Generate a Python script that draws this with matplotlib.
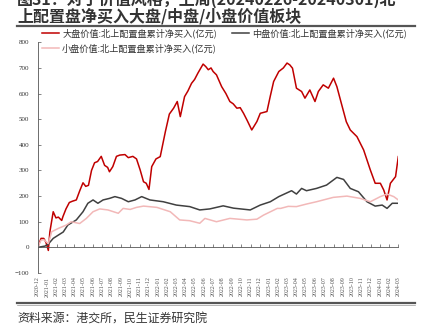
#!/usr/bin/env python3
import matplotlib
matplotlib.use('Agg')
import matplotlib.pyplot as plt
import matplotlib.dates as mdates
from matplotlib.lines import Line2D
import pandas as pd

plt.rcParams['font.family'] = ['Noto Sans CJK SC', 'DejaVu Sans']

# 大盘价值
large_dates = ['2020-12-01', '2020-12-12', '2020-12-21', '2020-12-28', '2021-01-05', '2021-01-10',
               '2021-01-21', '2021-01-30', '2021-02-07', '2021-02-18', '2021-02-22', '2021-03-04',
               '2021-03-15', '2021-03-25', '2021-04-07', '2021-04-18', '2021-04-29', '2021-05-08',
               '2021-05-17', '2021-05-27', '2021-06-06', '2021-06-16', '2021-06-28', '2021-07-09',
               '2021-07-19', '2021-07-25', '2021-08-05', '2021-08-17', '2021-08-28', '2021-09-14',
               '2021-09-25', '2021-10-10', '2021-10-22', '2021-11-03', '2021-11-14', '2021-11-23',
               '2021-12-02', '2021-12-11', '2021-12-25', '2022-01-08', '2022-01-25', '2022-02-07',
               '2022-02-21', '2022-03-05', '2022-03-15', '2022-03-29', '2022-04-09', '2022-04-21',
               '2022-05-01', '2022-05-12', '2022-05-29', '2022-06-07', '2022-06-15', '2022-06-24',
               '2022-07-01', '2022-07-12', '2022-07-29', '2022-08-12', '2022-08-25', '2022-09-05',
               '2022-09-17', '2022-09-28', '2022-10-09', '2022-10-21', '2022-11-05', '2022-11-22',
               '2022-12-03', '2022-12-25', '2023-01-05', '2023-01-16', '2023-02-02', '2023-02-17',
               '2023-03-01', '2023-03-10', '2023-03-19', '2023-04-01', '2023-04-18', '2023-04-29',
               '2023-05-15', '2023-06-01', '2023-06-12', '2023-06-28', '2023-07-15', '2023-08-01',
               '2023-08-12', '2023-08-28', '2023-09-12', '2023-09-25', '2023-10-17', '2023-11-08',
               '2023-11-30', '2023-12-16', '2024-01-02', '2024-01-13', '2024-01-24', '2024-02-04',
               '2024-02-21', '2024-03-01']
large_vals = [0, 35, 35, 20, -12, 60,
              139, 115, 118, 105, 120, 150,
              175, 180, 185, 220, 252, 238,
              242, 300, 330, 335, 355, 320,
              312, 295, 315, 355, 360, 362,
              350, 355, 345, 302, 256, 250,
              226, 315, 345, 354, 452, 520,
              543, 569, 510, 588, 610, 640,
              655, 680, 715, 705, 693, 700,
              686, 673, 627, 600, 569, 560,
              543, 545, 523, 495, 458, 491,
              523, 530, 590, 647, 686, 700,
              719, 712, 699, 621, 608, 582,
              614, 569, 608, 634, 621, 660,
              627, 556, 490, 458, 432, 380,
              302, 250, 250, 224, 185, 250,
              276, 354]

# 中盘价值
mid_dates = ['2020-12-01', '2020-12-25', '2021-01-05', '2021-01-21', '2021-02-07', '2021-02-23',
             '2021-03-10', '2021-04-07', '2021-04-29', '2021-05-15', '2021-06-01', '2021-06-17',
             '2021-07-04', '2021-07-25', '2021-08-12', '2021-09-03', '2021-09-25', '2021-10-17',
             '2021-11-08', '2021-12-05', '2022-01-18', '2022-03-02', '2022-04-15', '2022-05-18',
             '2022-06-20', '2022-08-03', '2022-09-06', '2022-10-31', '2022-12-03', '2023-01-05',
             '2023-02-02', '2023-03-16', '2023-04-01', '2023-04-18', '2023-05-04', '2023-06-06',
             '2023-07-09', '2023-08-12', '2023-09-03', '2023-09-25', '2023-10-22', '2023-11-19',
             '2023-12-16', '2024-01-08', '2024-01-24', '2024-02-10', '2024-03-01']
mid_vals = [0, 5, 13, 35, 48, 60,
            87, 107, 139, 172, 185, 172,
            185, 191, 198, 191, 178, 185,
            198, 185, 178, 165, 159, 146,
            150, 162, 153, 146, 165, 178,
            198, 221, 208, 230, 221, 230,
            243, 273, 265, 230, 217, 178,
            161, 165, 152, 172, 172]

# 小盘价值
small_dates = ['2020-12-01', '2020-12-12', '2020-12-21', '2021-01-05', '2021-01-16', '2021-02-07',
               '2021-03-05', '2021-03-21', '2021-04-18', '2021-05-10', '2021-06-01', '2021-06-23',
               '2021-07-20', '2021-08-23', '2021-09-08', '2021-10-01', '2021-10-22', '2021-11-14',
               '2021-12-28', '2022-02-10', '2022-03-13', '2022-04-15', '2022-05-18', '2022-06-04',
               '2022-07-12', '2022-08-25', '2022-10-20', '2022-11-22', '2022-12-14', '2023-01-28',
               '2023-02-08', '2023-03-05', '2023-04-01', '2023-05-04', '2023-06-06', '2023-07-31',
               '2023-09-14', '2023-10-28', '2023-11-30', '2024-01-02', '2024-01-24', '2024-02-15',
               '2024-03-01']
small_vals = [0, 28, 30, 15, 61, 74,
              87, 100, 93, 113, 139, 150,
              146, 133, 152, 148, 156, 161,
              156, 139, 107, 104, 94, 113,
              100, 113, 107, 110, 126, 152,
              152, 160, 159, 169, 178, 195,
              200, 191, 178, 198, 208, 198,
              185]

labels = ['大盘价值:北上配置盘累计净买入(亿元)',
          '中盘价值:北上配置盘累计净买入(亿元)',
          '小盘价值:北上配置盘累计净买入(亿元)']
colors = ['#C00000', '#404040', '#F2B8B8']


def main():
    fig = plt.figure(figsize=(4.27, 3.25), dpi=100)
    ax = fig.add_axes([37.7 / 427, 52 / 325, 360.6 / 427, 230.7 / 325])

    series = [(large_dates, large_vals), (mid_dates, mid_vals), (small_dates, small_vals)]
    handles = []
    for (d, v), lab, c in zip(series, labels, colors):
        ln, = ax.plot(pd.to_datetime(d), v, color=c, lw=1.1, label=lab)
        handles.append(ln)

    ax.set_ylim(-100, 800)
    ax.set_yticks(range(-100, 801, 100))
    ax.set_xlim(pd.Timestamp('2020-12-01'), pd.Timestamp('2024-03-01'))
    ax.xaxis.set_major_locator(mdates.MonthLocator())
    ax.xaxis.set_major_formatter(mdates.DateFormatter('%Y-%m'))

    for s in ['top', 'right']:
        ax.spines[s].set_visible(False)
    ax.spines['bottom'].set_position(('data', 0))
    ax.spines['bottom'].set_color('#555555')
    ax.spines['bottom'].set_linewidth(0.6)
    ax.spines['left'].set_color('#555555')
    ax.spines['left'].set_linewidth(0.6)

    ax.tick_params(axis='x', direction='in', length=2, width=0.5, color='#555555',
                   pad=21, labelsize=4.3, labelcolor='#555555', labelrotation=90)
    ax.tick_params(axis='y', direction='in', length=2, width=0.5, color='#555555',
                   labelsize=5, labelcolor='#333333', pad=6)
    for t in ax.get_xticklabels() + ax.get_yticklabels():
        t.set_fontfamily('Liberation Serif')

    leg = fig.legend([handles[0], handles[2], handles[1]],
                     [labels[0], labels[2], labels[1]],
                     ncol=2, loc='upper left', bbox_to_anchor=(42 / 427, 1 - 28 / 325),
                     frameon=False, fontsize=6.6, handlelength=1.9, handletextpad=0.3,
                     columnspacing=1.6, labelspacing=0.65, borderaxespad=0, borderpad=0)
    for t in leg.get_texts():
        t.set_color('#333333')

    # title
    fig.text(17 / 427, 1 + 1 / 325, '图31：对于价值风格，上周(20240226-20240301)北',
             fontsize=11.5, fontweight='bold', color='#333333', va='center', ha='left')
    fig.text(17 / 427, 1 - 16 / 325, '上配置盘净买入大盘/中盘/小盘价值板块',
             fontsize=11.5, fontweight='bold', color='#333333', va='center', ha='left')
    fig.add_artist(Line2D([17 / 427, 415 / 427], [1 - 25.5 / 325] * 2,
                          color='#555555', lw=1.6, transform=fig.transFigure))

    # source
    fig.add_artist(Line2D([17 / 427, 415 / 427], [1 - 302.5 / 325] * 2,
                          color='#555555', lw=1.6, transform=fig.transFigure))
    fig.add_artist(Line2D([17 / 427, 415 / 427], [1 - 305 / 325] * 2,
                          color='#999999', lw=0.5, transform=fig.transFigure))
    fig.text(17 / 427, 1 - 318 / 325, '资料来源：港交所，民生证券研究院',
             fontsize=8.6, color='#333333', va='center', ha='left')

    fig.savefig('out.png', dpi=100)


if __name__ == '__main__':
    main()
